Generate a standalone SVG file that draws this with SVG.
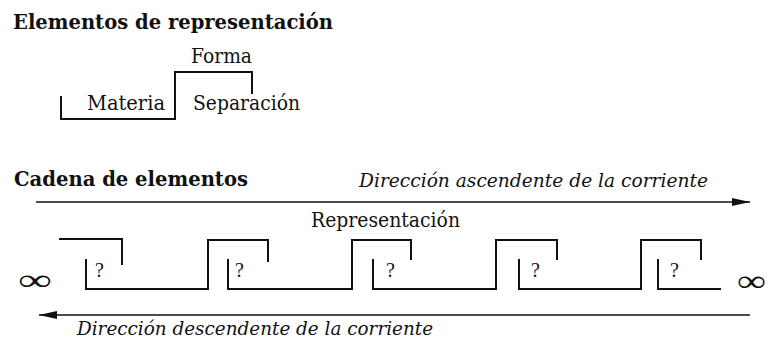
<svg xmlns="http://www.w3.org/2000/svg" width="768" height="346" viewBox="0 0 768 346">
<style>
  .bg{fill:#ffffff}
  .ln{fill:none;stroke:#111;stroke-width:2;stroke-linecap:square;stroke-linejoin:miter}
  .ar{fill:none;stroke:#111;stroke-width:1.6}
  .t{font-family:"DejaVu Serif","Liberation Serif",serif;fill:#111;font-size:20px}
  .b{font-weight:bold;font-size:19.5px}
  .i{font-style:italic;font-size:19px}
  .q{font-family:"Liberation Serif",serif;font-size:20px}
  .inf{font-family:"Liberation Serif",serif;font-size:30px;font-weight:normal}
</style>
<defs>
  <marker id="ah" markerUnits="userSpaceOnUse" markerWidth="20" markerHeight="10" refX="18" refY="4.5" orient="auto">
    <path d="M0,0.5 L18,4.5 L0,8.5 Z" fill="#111"/>
  </marker>
</defs>
<rect class="bg" x="0" y="0" width="768" height="346"/>

<g id="titulo-elementos">
  <text class="t b" x="13" y="29" textLength="320" lengthAdjust="spacingAndGlyphs">Elementos de representación</text>
</g>

<g id="elemento-representacion">
  <path class="ln" d="M61,97 V119 H175 V72 H252 V93"/>
  <text class="t" x="191" y="63" textLength="61" lengthAdjust="spacingAndGlyphs">Forma</text>
  <text class="t" x="87" y="110" textLength="78" lengthAdjust="spacingAndGlyphs">Materia</text>
  <text class="t" x="193" y="110" textLength="107" lengthAdjust="spacingAndGlyphs">Separación</text>
</g>

<g id="titulo-cadena">
  <text class="t b" x="14" y="186" textLength="234" lengthAdjust="spacingAndGlyphs">Cadena de elementos</text>
</g>

<g id="connectors">
  <path class="ar" d="M36,202 H750" marker-end="url(#ah)"/>
  <path class="ar" d="M750,315 H39" marker-end="url(#ah)"/>
</g>

<g id="etiqueta-ascendente">
  <text class="t i" x="359" y="187" textLength="349" lengthAdjust="spacingAndGlyphs">Dirección ascendente de la corriente</text>
</g>
<g id="etiqueta-representacion">
  <text class="t" x="311" y="227" textLength="149" lengthAdjust="spacingAndGlyphs">Representación</text>
</g>
<g id="etiqueta-descendente">
  <text class="t i" x="77" y="335" textLength="356" lengthAdjust="spacingAndGlyphs">Dirección descendente de la corriente</text>
</g>

<g id="infinito-izq">
  <text class="t inf" x="18" y="290" textLength="34" lengthAdjust="spacingAndGlyphs">∞</text>
</g>
<g id="elemento-0">
  <path class="ln" d="M60,239 H122 V264"/>
</g>
<g id="elemento-1">
  <path class="ln" d="M86,260 V289 H208 V240 H268 V261"/>
  <text class="t q" x="95" y="277">?</text>
</g>
<g id="elemento-2">
  <path class="ln" d="M228,260 V289 H352 V240 H411 V259"/>
  <text class="t q" x="235" y="277">?</text>
</g>
<g id="elemento-3">
  <path class="ln" d="M373,260 V289 H496 V240 H557 V259"/>
  <text class="t q" x="386" y="277">?</text>
</g>
<g id="elemento-4">
  <path class="ln" d="M519,260 V289 H641 V240 H701 V259"/>
  <text class="t q" x="531" y="277">?</text>
</g>
<g id="elemento-5">
  <path class="ln" d="M658,260 V289 H720"/>
  <text class="t q" x="670" y="277">?</text>
</g>
<g id="infinito-der">
  <text class="t inf" x="737" y="291" textLength="29" lengthAdjust="spacingAndGlyphs">∞</text>
</g>
</svg>
